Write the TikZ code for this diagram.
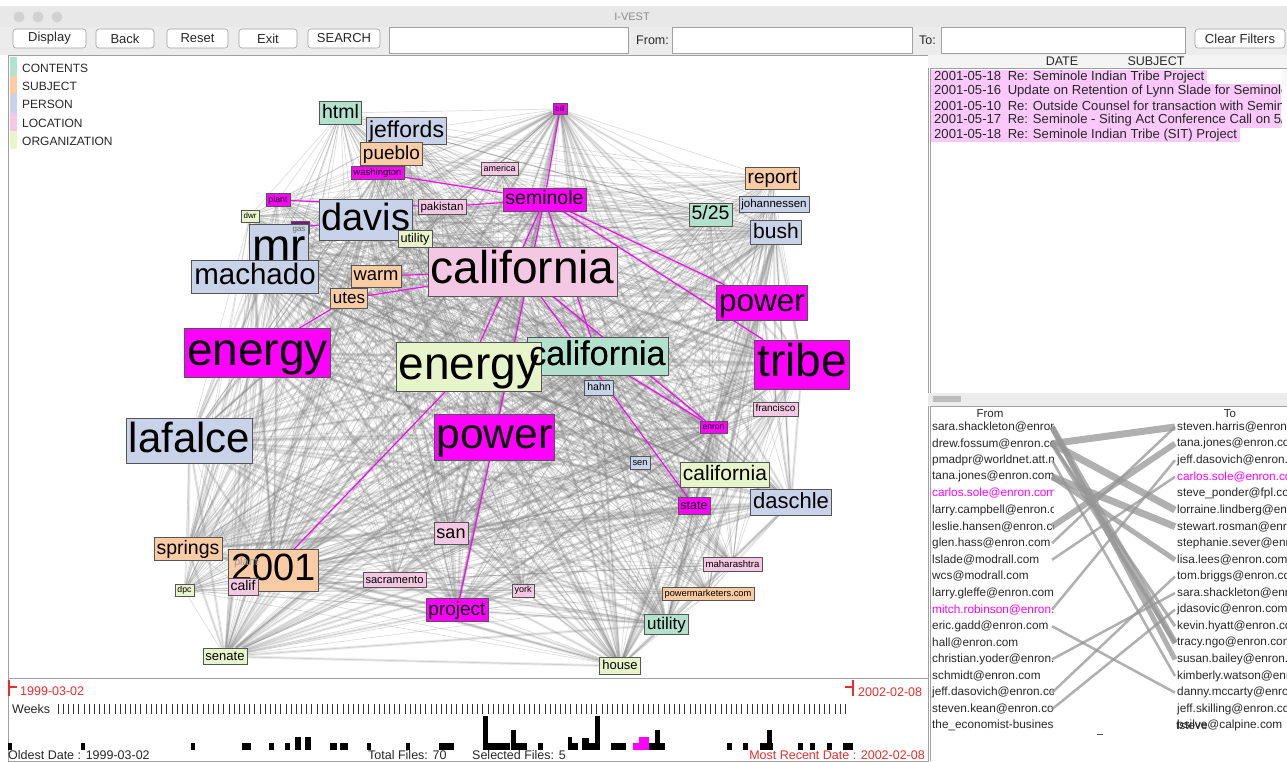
\documentclass[tikz,border=0pt]{standalone}
\usepackage{fontspec}
\setmainfont{Liberation Sans}
\definecolor{cMint}{RGB}{178,226,205}
\definecolor{cPeach}{RGB}{251,203,163}
\definecolor{cBlue}{RGB}{200,210,232}
\definecolor{cPink}{RGB}{244,199,226}
\definecolor{cYel}{RGB}{232,245,203}
\definecolor{cMag}{RGB}{255,0,255}
\definecolor{cGas}{RGB}{128,20,128}
\definecolor{cBorder}{RGB}{85,85,85}
\definecolor{cEdge}{RGB}{130,130,130}
\definecolor{cUIText}{RGB}{40,40,40}
\definecolor{cBtnBorder}{RGB}{160,160,160}
\definecolor{cBar}{RGB}{236,236,236}
\definecolor{cTitle}{RGB}{232,232,232}
\definecolor{cRed}{RGB}{235,45,45}
\definecolor{cRow}{RGB}{251,200,251}
\definecolor{cFT}{RGB}{150,150,150}
\pgfdeclarelayer{bg}
\pgfdeclarelayer{edges}
\pgfsetlayers{bg,edges,main}
\begin{document}
\begin{tikzpicture}[x=1pt,y=-1pt,
  ft/.style={font=\fontsize{#1}{#1}\selectfont},
  fs/.code={\pgfmathsetmacro\fsH{0.76*#1}\pgfmathsetmacro\fsD{0.22*#1}%
    \edef\fsTmp{\noexpand\tikzset{font=\noexpand\fontsize{#1}{#1}\noexpand\selectfont,text height=\fsH pt,text depth=\fsD pt}}\fsTmp},
  kw/.style={draw=cBorder,line width=0.8pt,inner xsep=2.5pt,inner ysep=2pt,text=black},
  mint/.style={kw,fill=cMint}, subj/.style={kw,fill=cPeach}, pers/.style={kw,fill=cBlue},
  loc/.style={kw,fill=cPink}, org/.style={kw,fill=cYel}, sel/.style={kw,fill=cMag},
  gedge/.style={draw=cEdge,line width=0.7pt,opacity=0.27},
  hedge/.style={draw=cEdge,line width=2.8pt,opacity=0.16},
  medge/.style={draw=cMag,line width=1.1pt},
  ui/.style={ft=12,inner sep=0,text=cUIText},
  btn/.style={draw=cBtnBorder,fill=white,rounded corners=3pt,line width=0.6pt,ft=13,inner sep=0,minimum height=19pt,text=cUIText},
  field/.style={draw=cBtnBorder,fill=white,line width=0.6pt},
  ftline/.style={draw=cFT,opacity=0.75,line cap=butt}
]
\useasboundingbox (0,0) rectangle (1287,761);
% ---------------- background UI ----------------
\begin{pgfonlayer}{bg}
\fill[white] (0,0) rectangle (1287,761);
\fill[cTitle] (0,6) rectangle (1287,27);
\fill[cBar] (0,27) rectangle (1287,55);
\fill[white] (8,55) rectangle (928,761);
\draw[cBtnBorder,line width=0.6pt] (8,55) rectangle (928,761);
\draw[cBtnBorder,line width=0.6pt] (8,678) -- (928,678);
\fill[cBar!60] (928,55) rectangle (1287,68);
\fill[white] (930,68) rectangle (1287,393);
\draw[cBtnBorder,line width=0.6pt] (930,68) rectangle (1290,393);
\fill[cBar] (928,393) rectangle (1287,406);
\fill[cBtnBorder!70] (933,396) rectangle (961,402);
\fill[white] (930,406) rectangle (1287,761);
\draw[cBtnBorder,line width=0.6pt] (930,406) -- (1287,406) (930,406) -- (930,761);
\fill[cBar!80!black!10] (1282,70) rectangle (1287,86);
\end{pgfonlayer}
% title bar
\foreach \cx/\nm in {19/ca,38/cb,57/cc} \fill[black!18] (\cx,17) circle (5.5pt);
\node[ft=11,text=black!45,inner sep=0] (title) at (632,17) {I-VEST};
% toolbar
\node[btn,minimum width=73pt] (bDisplay) at (49.5,38.5) {Display};
\node[btn,minimum width=58pt] (bBack) at (125,38.5) {Back};
\node[btn,minimum width=61pt] (bReset) at (197.5,38.5) {Reset};
\node[btn,minimum width=58pt] (bExit) at (268,38.5) {Exit};
\node[btn,minimum width=72pt] (bSearch) at (344,38.5) {SEARCH};
\node[btn,minimum width=90pt] (bClear) at (1240,38.5) {Clear Filters};
\draw[field] (389,27) rectangle (628,53);
\draw[field] (672,27) rectangle (912,53);
\draw[field] (941,27) rectangle (1185,53);
\node[ui,ft=12.5,anchor=west] (lFrom) at (636,40) {From:};
\node[ui,ft=12.5,anchor=west] (lTo) at (919,40) {To:};
% legend
\fill[cMint] (10,57) rectangle (17,76);
\fill[cPeach] (10,76) rectangle (17,94);
\fill[cBlue] (10,94) rectangle (17,113);
\fill[cPink] (10,113) rectangle (17,131);
\fill[cYel] (10,131) rectangle (17,149);
\node[ui,anchor=west] (lgA) at (22,68) {CONTENTS};
\node[ui,anchor=west] (lgB) at (22,86) {SUBJECT};
\node[ui,anchor=west] (lgC) at (22,104) {PERSON};
\node[ui,anchor=west] (lgD) at (22,123) {LOCATION};
\node[ui,anchor=west] (lgE) at (22,141) {ORGANIZATION};
% ---------------- graph nodes ----------------
\node[mint,fs=19.5] (html) at (340.5,113) {html};
\node[pers,fs=23] (jeffords) at (406.5,131) {jeffords};
\node[subj,fs=19] (pueblo) at (391.5,154) {pueblo};
\node[sel,fs=9.5] (washington) at (377.5,173) {washington};
\node[loc,fs=9] (america) at (499.5,169) {america};
\node[sel,fs=7.5] (bill) at (560,109) {bill};
\node[sel,fs=19.5] (seminole) at (544.5,199.5) {seminole};
\node[sel,fs=8.8] (plant) at (278,200) {plant};
\node[loc,fs=11.5] (pakistan) at (442,207) {pakistan};
\node[org,fs=8] (dwr) at (250,216) {dwr};
\node[kw,fill=cGas,fs=8,text=black!60] (gas) at (300,227) {gas};
\node[pers,fs=38] (davis) at (366,220) {davis};
\node[pers,fs=46] (mr) at (279,249) {mr};
\node[pers,fs=29.5] (machado) at (255,276.5) {machado};
\node[inner sep=0,fs=8,text=black!60] (gastext) at (299,229) {gas};
\node[org,fs=12.7] (utility) at (415,239) {utility};
\node[subj,fs=18.4] (warm) at (376,276) {warm};
\node[subj,fs=17] (utes) at (349,298.5) {utes};
\node[loc,fs=46] (californiaP) at (522.5,271.5) {california};
\node[subj,fs=19] (report) at (772.5,178.5) {report};
\node[pers,fs=11.5] (johannessen) at (774,204.5) {johannessen};
\node[mint,fs=19.5] (five25) at (710.5,214.5) {5/25};
\node[pers,fs=21] (bush) at (776,232.5) {bush};
\node[sel,fs=31.5] (powerR) at (762,302.5) {power};
\node[sel,fs=46] (energyL) at (257.5,353) {energy};
\node[mint,fs=34] (californiaM) at (597.5,356.5) {california};
\node[org,fs=46] (energyY) at (469,367) {energy};
\node[inner sep=0,fs=34] (calMtext) at (597.5,356.5) {california};
\node[sel,fs=46] (tribe) at (802,364.5) {tribe};
\node[pers,fs=10.5] (hahn) at (599,388) {hahn};
\node[loc,fs=10] (francisco) at (775.5,409) {francisco};
\node[sel,fs=8.6] (enron) at (713.5,427.5) {enron};
\node[pers,fs=42] (lafalce) at (189.5,441) {lafalce};
\node[sel,fs=42.5] (powerC) at (494.5,437.5) {power};
\node[pers,fs=9.3] (sen) at (640,463) {sen};
\node[org,fs=21] (californiaY) at (725,475) {california};
\node[sel,fs=12.5] (state) at (694,506) {state};
\node[pers,fs=22] (daschle) at (791,502.5) {daschle};
\node[loc,fs=18] (san) at (451,533.5) {san};
\node[subj,fs=19.5] (springs) at (188,549) {springs};
\node[subj,fs=38] (n2001) at (273.5,570.5) {2001};
\node[inner sep=0,fs=11,text=black!40] (plantB) at (246,563) {plant};
\node[loc,fs=14] (calif) at (243,587) {calif};
\node[org,fs=8.7] (dpc) at (184.5,590.5) {dpc};
\node[loc,fs=11.1] (sacramento) at (394.5,580) {sacramento};
\node[loc,fs=9] (york) at (523,590.5) {york};
\node[loc,fs=9.6] (maharashtra) at (732.5,564.5) {maharashtra};
\node[subj,fs=9.3] (powermarketers) at (708,594) {powermarketers.com};
\node[sel,fs=19] (project) at (457,610) {project};
\node[mint,fs=17] (utilityM) at (666.5,624.5) {utility};
\node[org,fs=13] (senate) at (225,656.5) {senate};
\node[org,fs=13] (house) at (620,666) {house};
% ---------------- graph edges ----------------
\def\allnodes{html,jeffords,pueblo,washington,america,bill,seminole,plant,pakistan,dwr,davis,mr,machado,utility,warm,utes,californiaP,report,johannessen,five25,bush,powerR,energyL,energyY,californiaM,tribe,hahn,francisco,enron,lafalce,powerC,sen,californiaY,state,daschle,san,springs,n2001,calif,dpc,sacramento,york,maharashtra,powermarketers,project,utilityM,senate,house}
\def\hubnodes{bill,seminole,davis,mr,californiaP,powerR,energyL,energyY,californiaM,tribe,lafalce,powerC,californiaY,daschle,n2001,project,utilityM,senate,house,state,enron,bush,san,machado,springs}
\begin{pgfonlayer}{edges}
\foreach \a [count=\i] in \allnodes {
  \foreach \b [count=\j] in \allnodes {
    \ifnum\j>\i\relax \draw[gedge] (\a) -- (\b); \fi
  }
}
\foreach \a [count=\i] in \hubnodes {
  \foreach \b [count=\j] in \hubnodes {
    \ifnum\j>\i\relax \draw[hedge] (\a) -- (\b); \fi
  }
}
\draw[medge] (bill) -- (seminole);
\draw[medge] (washington) -- (seminole);
\draw[medge] (plant) -- (pakistan);
\draw[medge] (pakistan) -- (seminole);
\draw[medge] (gas) -- (davis);
\draw[medge] (seminole) -- (energyY);
\draw[medge] (seminole) -- (powerC);
\draw[medge] (seminole) -- (californiaM);
\draw[medge] (seminole) -- (powerR);
\draw[medge] (seminole) -- (tribe);
\draw[medge] (californiaP) -- (enron);
\draw[medge] (californiaP) -- (state);
\draw[medge] (warm) -- (californiaP);
\draw[medge] (utes) -- (californiaP);
\draw[medge] (energyL) -- (utes);
\draw[medge] (n2001) -- (energyY);
\draw[medge] (powerC) -- (project);
\draw[medge] (californiaM) -- (enron);
\end{pgfonlayer}
% ---------------- subject list ----------------
\node[ui,ft=12.5] (hDate) at (1062,61) {DATE};
\node[ui,ft=12.5] (hSubj) at (1156,61) {SUBJECT};
\begin{scope}
\clip (931,69) rectangle (1281,392);
\foreach \yy/\txt [count=\r] in {77/{2001-05-18\enspace Re: Seminole Indian Tribe Project},
  91.5/{2001-05-16\enspace Update on Retention of Lynn Slade for Seminole Tribe},
  106/{2001-05-10\enspace Re: Outside Counsel for transaction with Seminole Tribe},
  120.5/{2001-05-17\enspace Re: Seminole - Siting Act Conference Call on 5/22},
  135/{2001-05-18\enspace Re: Seminole Indian Tribe (SIT) Project}}
  \node[ft=13.1,fill=cRow,anchor=west,inner xsep=3pt,inner ysep=0.5pt,minimum height=14.5pt,text=black!85] (row\r) at (931,\yy) {\txt};
\end{scope}
% ---------------- from / to ----------------
\node[ui,ft=11.5] (hFrom) at (990,414) {From};
\node[ui,ft=11.5] (hTo) at (1230,414) {To};
\begin{scope}
\clip (930,406) rectangle (1053,761);
\foreach \txt/\col [count=\r] in {sara.shackleton@enron.com/cUIText,drew.fossum@enron.com/cUIText,pmadpr@worldnet.att.net/cUIText,tana.jones@enron.com/cUIText,carlos.sole@enron.com/cMag,larry.campbell@enron.com/cUIText,leslie.hansen@enron.com/cUIText,glen.hass@enron.com/cUIText,lslade@modrall.com/cUIText,wcs@modrall.com/cUIText,larry.gleffe@enron.com/cUIText,mitch.robinson@enron.com/cMag,eric.gadd@enron.com/cUIText,hall@enron.com/cUIText,christian.yoder@enron.com/cUIText,schmidt@enron.com/cUIText,jeff.dasovich@enron.com/cUIText,steven.kean@enron.com/cUIText,the\_economist-business@enron.com/cUIText}
  \node[ft=11.8,inner sep=0,anchor=west,text=\col] (from\r) at (932,{427+16.6*(\r-1)}) {\txt};
\end{scope}
\begin{scope}
\clip (1175,406) rectangle (1287,761);
\foreach \txt/\col [count=\r] in {steven.harris@enron.com/cUIText,tana.jones@enron.com/cUIText,jeff.dasovich@enron.com/cUIText,carlos.sole@enron.com/cMag,steve\_ponder@fpl.com/cUIText,lorraine.lindberg@enron.com/cUIText,stewart.rosman@enron.com/cUIText,stephanie.sever@enron.com/cUIText,lisa.lees@enron.com/cUIText,tom.briggs@enron.com/cUIText,sara.shackleton@enron.com/cUIText,jdasovic@enron.com/cUIText,kevin.hyatt@enron.com/cUIText,tracy.ngo@enron.com/cUIText,susan.bailey@enron.com/cUIText,kimberly.watson@enron.com/cUIText,danny.mccarty@enron.com/cUIText,jeff.skilling@enron.com/cUIText,bsilve@calpine.com/cUIText}
  \node[ft=11.8,inner sep=0,anchor=west,text=\col] (to\r) at (1177,{427+16.6*(\r-1)}) {\txt};
\node[ft=11.8,inner sep=0,anchor=west,text=cUIText] (toX) at (1176,{427+16.6*18}) {tsteve};
\end{scope}
\foreach \r in {1,...,19} {
  \coordinate (fa\r) at (1052,{427+16.6*(\r-1)});
  \coordinate (ta\r) at (1175,{427+16.6*(\r-1)});
}
\foreach \f/\t/\w in {1/14/6,1/15/5,2/1/7,2/6/7,2/13/3,2/14/4,4/7/7,4/9/5,7/2/6,8/1/2.5,9/4/2.5,12/3/2.5,13/17/2.5,15/11/2.5,17/10/2.5,18/12/2.5,3/16/2.5}
  \draw[ftline,line width=\w pt] (fa\f) -- (ta\t);
\draw[black!70,line width=1pt] (1097,734) -- (1103,734);
% ---------------- timeline ----------------
\draw[cRed,line width=2pt] (9,680) -- (9,696) (9,687) -- (17,687);
\node[ft=12.5,inner sep=0,anchor=west,text=cRed] (dLeft) at (20,691) {1999-03-02};
\draw[cRed,line width=2pt] (853,680) -- (853,696) (845,687) -- (853,687);
\node[ft=12.5,inner sep=0,anchor=west,text=cRed] (dRight) at (858,692) {2002-02-08};
\node[ui,ft=12.5,anchor=west] (weeks) at (12,709) {Weeks};
\foreach \k in {0,...,152} \draw[black!80,line width=0.8pt] ({58+5.18*\k},704) -- ++(0,10);
\foreach \xa/\xb/\yt in {8/12/743,81/85/743,191/195/743,242/251/743,269/274/743,285/290/743,295/301/737,305/311/737,330/337/743,340/348/743,367/371/743,406/410/743,439/454/743,483/488/716,488/510/743,511/516/730,516/527/743,538/543/743,568/572/737,572/578/743,582/589/738,589/595/743,595/600/716,611/626/743,649/665/743,655/660/730,727/732/743,743/748/743,760/773/743,767/772/730,798/803/743,810/815/743,827/832/743,843/853/743}
  \fill[black] (\xa,\yt) rectangle (\xb,750);
\fill[cMag] (633,743) rectangle (639,750);
\fill[cMag] (639,737) rectangle (649,750);
\node[ui,ft=12.5,anchor=west] (oldest) at (8,755) {Oldest Date : 1999-03-02};
\node[ui,ft=12.5,anchor=west] (total) at (368,755) {Total Files: 70};
\node[ui,ft=12.5,anchor=west] (selected) at (472,755) {Selected Files: 5};
\node[ft=12.5,inner sep=0,anchor=east,text=cRed] (recent) at (925,755) {Most Recent Date : 2002-02-08};
\end{tikzpicture}
\end{document}
